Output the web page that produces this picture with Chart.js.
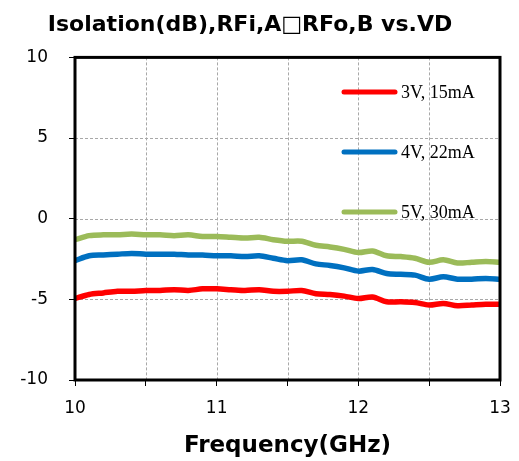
<!DOCTYPE html>
<html lang="en">
<head>
  <meta charset="UTF-8">
  <title>Isolation vs VD</title>
  <script src="https://cdn.jsdelivr.net/npm/chart.js"></script>
  <style>
    html, body { margin: 0; padding: 0; background: #fff; }
    #wrap { width: 519px; height: 461px; }
  </style>
</head>
<body>
<div id="wrap"><canvas id="isoChart" width="519" height="461"></canvas></div>
<script>
  // frequency points (GHz)
  const freqs = [10.0, 10.1, 10.2, 10.3, 10.4, 10.5, 10.6, 10.7, 10.8, 10.9,
                 11.0, 11.1, 11.2, 11.3, 11.4, 11.5, 11.6, 11.7, 11.8, 11.9,
                 12.0, 12.1, 12.2, 12.3, 12.4, 12.5, 12.6, 12.7, 12.8, 12.9, 13.0];

  // isolation in dB
  const iso3V = [-4.95, -4.7, -4.6, -4.5, -4.5, -4.45, -4.45, -4.4, -4.45, -4.35,
                 -4.35, -4.4, -4.45, -4.4, -4.5, -4.5, -4.45, -4.65, -4.7, -4.8,
                 -4.95, -4.85, -5.15, -5.15, -5.2, -5.35, -5.25, -5.4, -5.35, -5.3, -5.3];
  const iso4V = [-2.6, -2.3, -2.25, -2.2, -2.15, -2.2, -2.2, -2.2, -2.25, -2.25,
                 -2.3, -2.3, -2.35, -2.3, -2.45, -2.6, -2.55, -2.8, -2.9, -3.05,
                 -3.25, -3.15, -3.4, -3.45, -3.5, -3.75, -3.6, -3.75, -3.75, -3.7, -3.75];
  const iso5V = [-1.3, -1.05, -1.0, -1.0, -0.95, -1.0, -1.0, -1.05, -1.0, -1.1,
                 -1.1, -1.15, -1.2, -1.15, -1.3, -1.4, -1.4, -1.65, -1.75, -1.9,
                 -2.1, -2.0, -2.3, -2.35, -2.45, -2.7, -2.55, -2.75, -2.7, -2.65, -2.7];

  const seriesNames = ['3V, 15mA', '4V, 22mA', '5V, 30mA'];
  const seriesColors = ['#ff0000', '#0070c0', '#9bbb59'];

  const toPoints = arr => arr.map((v, i) => ({ x: freqs[i], y: v }));

  // dashed grey grid from the scales' own ticks
  const dashGrid = {
    id: 'dashGrid',
    beforeDatasetsDraw(chart) {
      const a = chart.chartArea;
      const ctx = chart.ctx;
      const xs = chart.scales.x, ys = chart.scales.y;
      ctx.save();
      ctx.strokeStyle = '#a8a8a8';
      ctx.lineWidth = 1;
      ctx.setLineDash([3, 2]);
      ctx.beginPath();
      xs.ticks.forEach(t => {
        const px = Math.round(xs.getPixelForValue(t.value)) + 0.5;
        ctx.moveTo(px, a.top);
        ctx.lineTo(px, a.bottom);
      });
      ys.ticks.forEach(t => {
        const py = Math.round(ys.getPixelForValue(t.value)) + 0.5;
        ctx.moveTo(a.left, py);
        ctx.lineTo(a.right, py);
      });
      ctx.stroke();
      ctx.restore();
    }
  };

  // black frame round the plot area
  const framePlugin = {
    id: 'frame',
    afterDatasetsDraw(chart) {
      const a = chart.chartArea;
      const ctx = chart.ctx;
      ctx.save();
      ctx.strokeStyle = '#000';
      ctx.lineWidth = 3;
      ctx.strokeRect(a.left, a.top, a.right - a.left, a.bottom - a.top);
      ctx.restore();
    }
  };

  // legend drawn inside the plot, right side
  const insideLegend = {
    id: 'insideLegend',
    afterDraw(chart) {
      const ctx = chart.ctx;
      const rows = [92, 152, 212];
      ctx.save();
      chart.data.datasets.forEach((ds, i) => {
        const y = rows[i];
        ctx.strokeStyle = ds.borderColor;
        ctx.lineWidth = 5;
        ctx.lineCap = 'round';
        ctx.beginPath();
        ctx.moveTo(344, y);
        ctx.lineTo(395, y);
        ctx.stroke();
        ctx.fillStyle = '#000';
        ctx.font = '18px "Liberation Serif", serif';
        ctx.textBaseline = 'middle';
        ctx.fillText(ds.label, 401, y + 1);
      });
      ctx.restore();
    }
  };

  const datasets = [iso3V, iso4V, iso5V].map((arr, i) => ({
    label: seriesNames[i],
    data: toPoints(arr),
    borderColor: seriesColors[i],
    borderWidth: 5.5,
    pointRadius: 0,
    tension: 0.3,
    fill: false
  }));

  // chart.js grid only gives the black tick marks outside the frame
  const tickMarks = () => ({
    display: true,
    drawOnChartArea: false,
    color: '#000',
    tickColor: '#000',
    tickLength: 6,
    tickWidth: 1
  });

  new Chart(document.getElementById('isoChart'), {
    type: 'line',
    data: { datasets: datasets },
    plugins: [dashGrid, framePlugin, insideLegend],
    options: {
      responsive: false,
      animation: false,
      layout: { padding: { left: 0, right: 19, top: 0, bottom: 0 } },
      plugins: {
        legend: { display: false },
        tooltip: { enabled: false },
        title: {
          display: true,
          text: 'Isolation(dB),RFi,A\u25A1RFo,B vs.VD',
          color: '#000',
          font: { family: '"DejaVu Sans", sans-serif', size: 22, weight: 'bold' },
          padding: { top: 12, bottom: 19 }
        }
      },
      scales: {
        x: {
          type: 'linear',
          min: 10,
          max: 13,
          afterFit(scale) {
            scale.height = 81;
            scale.paddingLeft = 0;
            scale.paddingRight = 0;
          },
          ticks: {
            stepSize: 0.5,
            autoSkip: false,
            maxRotation: 0,
            padding: 12,
            color: '#000',
            font: { family: '"DejaVu Sans", sans-serif', size: 17 },
            callback: v => Number.isInteger(v) ? v : ''
          },
          grid: tickMarks(),
          border: { display: false },
          title: {
            display: true,
            text: 'Frequency(GHz)',
            color: '#000',
            font: { family: '"DejaVu Sans", sans-serif', size: 23, weight: 'bold' },
            padding: { top: 4, bottom: 1 }
          }
        },
        y: {
          min: -10,
          max: 10,
          afterFit(scale) { scale.width = 75; },
          ticks: {
            stepSize: 5,
            padding: 21,
            color: '#000',
            font: { family: '"DejaVu Sans", sans-serif', size: 17 }
          },
          grid: tickMarks(),
          border: { display: false }
        }
      }
    }
  });
</script>
</body>
</html>
